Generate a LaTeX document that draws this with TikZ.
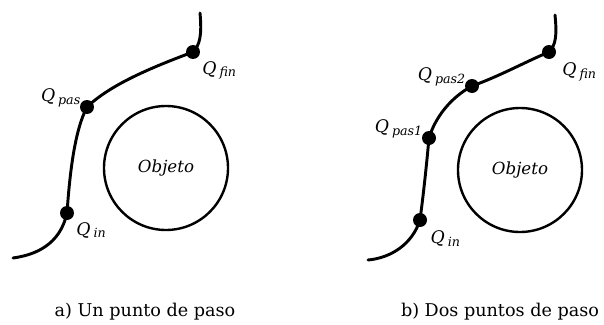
\documentclass[tikz,border=0pt]{standalone}
\usepackage{fontspec}
\setmainfont{DejaVu Serif}
\usetikzlibrary{positioning}
\newcommand{\qlab}[1]{\textit{Q}\,\raisebox{-0.3ex}{\fontsize{9.5}{10}\selectfont\textit{#1}}}
\tikzset{
  punto/.style={circle, fill=black, inner sep=0pt, minimum size=10.5pt},
  tramo/.style={line width=2.2pt, line cap=round},
  etiqueta/.style={font=\fontsize{13}{15}\selectfont, inner sep=1pt},
  objeto/.style={circle, draw, line width=1.8pt, minimum size=93pt, font=\fontsize{12.5}{14}\selectfont\itshape},
  pie/.style={font=\fontsize{13.2}{15}\selectfont}
}
\begin{document}
\begin{tikzpicture}[x=0.75pt, y=-0.75pt]
  \useasboundingbox (0,0) rectangle (604,325);

  \coordinate (a-ini) at (13,258);
  \node[punto] (a-qin) at (67,213) {};
  \node[punto] (a-qpas) at (87,107) {};
  \node[punto] (a-qfin) at (193,52) {};
  \coordinate (a-fin) at (200,13);
  \node[objeto] (a-obj) at (166,168) {Objeto};

  \draw[tramo] (a-ini) .. controls (35,255) and (60,245) .. (a-qin.center)
    .. controls (70,170) and (75,130) .. (a-qpas.center)
    .. controls (110,85) and (150,68) .. (a-qfin.center)
    .. controls (200,45) and (202,35) .. (a-fin);

  \node[etiqueta, below right=2pt and 2pt of a-qin] (a-lin) {\qlab{in}};
  \node[etiqueta, above left=-5pt and 0pt of a-qpas] (a-lpas) {\qlab{pas}};
  \node[etiqueta, below right=2pt and 2pt of a-qfin] (a-lfin) {\qlab{fin}};

  \coordinate (b-ini) at (368,260);
  \node[punto] (b-qin) at (420,220) {};
  \node[punto] (b-qpas1) at (429,138) {};
  \node[punto] (b-qpas2) at (472,86) {};
  \node[punto] (b-qfin) at (549,52) {};
  \coordinate (b-fin) at (555,15);
  \node[objeto] (b-obj) at (520,170) {Objeto};

  \draw[tramo] (b-ini) .. controls (390,258) and (412,245) .. (b-qin.center)
    .. controls (424,190) and (427,160) .. (b-qpas1.center)
    .. controls (435,118) and (450,98) .. (b-qpas2.center)
    .. controls (500,76) and (525,62) .. (b-qfin.center)
    .. controls (556,45) and (557,35) .. (b-fin);

  \node[etiqueta, below right=3pt and 3pt of b-qin] (b-lin) {\qlab{in}};
  \node[etiqueta, above left=-5pt and 0pt of b-qpas1] (b-lpas1) {\qlab{pas1}};
  \node[etiqueta, above left=-5pt and 0pt of b-qpas2] (b-lpas2) {\qlab{pas2}};
  \node[etiqueta, below right=3pt and 5pt of b-qfin] (b-lfin) {\qlab{fin}};

  \node[pie] (a-pie) at (145,312) {a) Un punto de paso};
  \node[pie] (b-pie) at (500,312) {b) Dos puntos de paso};
\end{tikzpicture}
\end{document}
